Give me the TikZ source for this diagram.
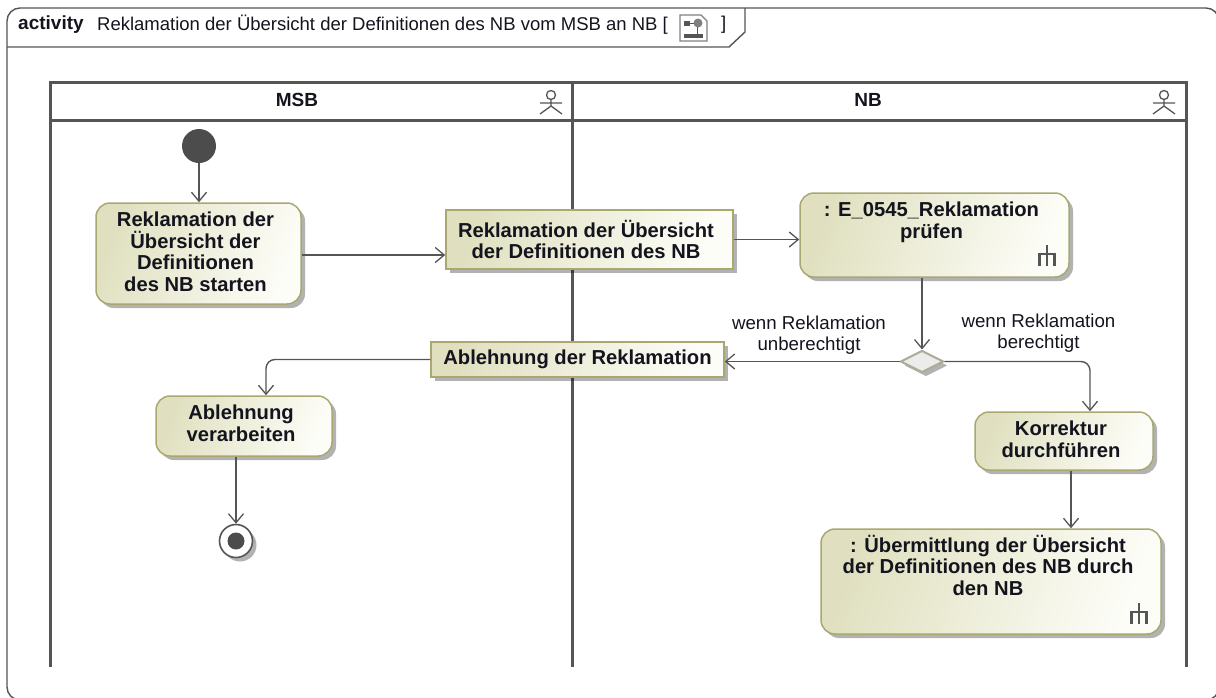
\documentclass[tikz,border=0pt]{standalone}
\usepackage{fontspec}
\setmainfont{Liberation Sans}
\usetikzlibrary{arrows.meta,shapes.geometric,shadows,calc}
\definecolor{linegray}{HTML}{555555}
\definecolor{edgekhaki}{HTML}{A8A870}
\definecolor{edgediamond}{HTML}{ABAB96}
\definecolor{fillkhaki}{HTML}{E0E0C0}
\definecolor{fillpale}{HTML}{FDFDF8}
\definecolor{textdark}{HTML}{14141E}
% top-aligned node text, a little left of the box centre
\newcommand{\topbox}[4][9]{\parbox[c][#3pt][t]{#2pt}{\centering\advance\rightskip 6pt\relax\vspace{#1pt}#4}}
\newcommand{\midbox}[2]{\parbox{#1pt}{\centering\advance\rightskip 7pt\relax #2}}
\tikzset{
  x=1pt,y=-1pt,
  shadowed/.style={general shadow={shadow xshift=4pt,shadow yshift=-4pt,fill=black,opacity=.3}},
  boxbase/.style={shadowed,draw=edgekhaki,line width=1.5pt,left color=fillkhaki,right color=fillpale,shading angle=70,
     inner sep=0pt,text=textdark,font=\fontsize{20.2}{21.5}\selectfont\bfseries},
  actionbox/.style={boxbase,rounded corners=14pt},
  objectbox/.style={boxbase,align=center},
  flow/.style={draw=linegray,line width=1.4pt,-{Straight Barb[length=9pt,width=15pt,line width=1.3pt]}},
  roundflow/.style={flow,rounded corners=9pt},
  lane/.style={draw=linegray,line width=3pt},
  guard/.style={inner sep=0pt,align=center,text=textdark,font=\fontsize{18.7}{21}\selectfont},
  lanetitle/.style={inner sep=0pt,text=textdark,font=\fontsize{19}{21}\selectfont\bfseries},
  stickman/.style={draw=linegray,line width=1.3pt},
  titletext/.style={anchor=west,inner sep=0pt,text=textdark,font=\fontsize{18.5}{21}\selectfont},
  rake/.pic={\draw[linegray,line width=2.8pt] (9,0)--(9,21) (1.4,9)--(16.6,9) (1.4,21)--(1.4,7.6) (16.6,21)--(16.6,7.6);}
}
\begin{document}
\begin{tikzpicture}
\useasboundingbox (0,0) rectangle (1216,697);
% frame (its right and bottom sides lie outside the picture)
\begin{scope}
\clip (0,0) rectangle (1216,697);
\draw[linegray,line width=1.4pt,rounded corners=13pt] (7,47) -- (7,8) -- (1219,8) -- (1219,700) -- (7,700) -- cycle;
\end{scope}
\draw[linegray,line width=1.4pt] (7,47) -- (729,47) -- (745,32) -- (745,8);
\node[titletext,font=\fontsize{19}{21}\selectfont\bfseries] (kind) at (18,24.5) {activity};
\node[titletext] (title) at (97,24.5) {Reklamation der Übersicht der Definitionen des NB vom MSB an NB [};
\node[titletext] (titleend) at (721,24.5) {]};
% title icon
\draw[gray,line width=1.2pt,fill=white] (680,15) -- (701,15) -- (707,21) -- (707,41) -- (680,41) -- cycle;
\fill[linegray] (684,21) rectangle (690,26);
\fill[gray] (698,23) circle (4.5);
\draw[linegray,line width=1pt] (690,23) -- (694,23) (697,27) -- (697,34);
\fill[linegray] (684,34) rectangle (703,38);
% swimlanes
\draw[lane] (50,667) -- (50,82) -- (1186,82) -- (1186,667);
\draw[lane] (50,120) -- (1186,120);
\draw[lane] (572,82) -- (572,667);
\node[lanetitle] (msb) at (297,100) {MSB};
\node[lanetitle] (nb) at (868,100) {NB};
\foreach \ax in {551,1164}{
  \draw[stickman] (\ax,95) circle (4.5) (\ax,99.5) -- (\ax,106) (\ax-11,103) -- (\ax+11,103) (\ax-11,114) -- (\ax,106) -- (\ax+11,114);
}
% nodes
\node[circle,fill=linegray!90!black,minimum size=34pt,inner sep=0pt] (start) at (199,146) {};
\node[actionbox] (a1) at (198.5,253.5) {\topbox{205}{101}{Reklamation der\\Übersicht der\\Definitionen\\des NB starten}};
\node[objectbox,minimum width=287pt,minimum height=59pt] (o1) at (589.5,239.5) {\midbox{287}{Reklamation der Übersicht\\der Definitionen des NB}};
\node[actionbox] (e1) at (934.5,235) {\topbox{269}{84}{: E\_0545\_Reklamation\\prüfen}};
\node[diamond,draw=edgediamond,line width=2pt,fill=gray!15,minimum width=43pt,minimum height=22pt,inner sep=0pt,shadowed] (dec) at (922,361.5) {};
\node[objectbox,minimum width=293pt,minimum height=35pt] (o2) at (577.5,359.5) {Ablehnung der Reklamation};
\node[actionbox] (a2) at (244,426) {\topbox{176}{60}{Ablehnung\\verarbeiten}};
\node[actionbox] (k1) at (1064,441) {\topbox{178}{58}{Korrektur\\durchführen}};
\node[actionbox] (u1) at (991,581.5) {\topbox[6]{340}{105}{: Übermittlung der Übersicht\\der Definitionen des NB durch\\den NB}};
\node[circle,draw=linegray,line width=1.6pt,fill=white,minimum size=33pt,inner sep=0pt,shadowed] (final) at (236,541) {};
\node[circle,fill=linegray!90!black,minimum size=17pt,inner sep=0pt] (finaldot) at (236,541) {};
\pic at (1038,245) {rake};
\pic at (1130,603) {rake};
% guards
\node[guard] (g1) at (809,335) {wenn Reklamation\\unberechtigt};
\node[guard] (g2) at (1038.5,333) {wenn Reklamation\\berechtigt};
% turning points
\coordinate (cA) at (266,359.5);
\coordinate (cB) at (1090,361.5);
% connectors
\draw[flow] (start) -- (start |- a1.north);
\draw[flow] ([yshift=-1.5pt]a1.east) -- ([yshift=-1.5pt]a1.east -| o1.west);
\draw[flow] (o1.east) -- (o1.east -| e1.west);
\draw[flow] (dec.north |- e1.south) -- (dec.north);
\draw[flow] (dec.west) -- (dec.west -| o2.east);
\draw[roundflow] (o2.west) -- (cA) -- (cA |- a2.north);
\draw[roundflow] (dec.east) -- (cB) -- (cB |- k1.north);
\draw[flow] (k1.south -| 1071,0) -- (u1.north -| 1071,0);
\draw[flow] (a2.south -| final.north) -- (final.north);
\end{tikzpicture}
\end{document}
